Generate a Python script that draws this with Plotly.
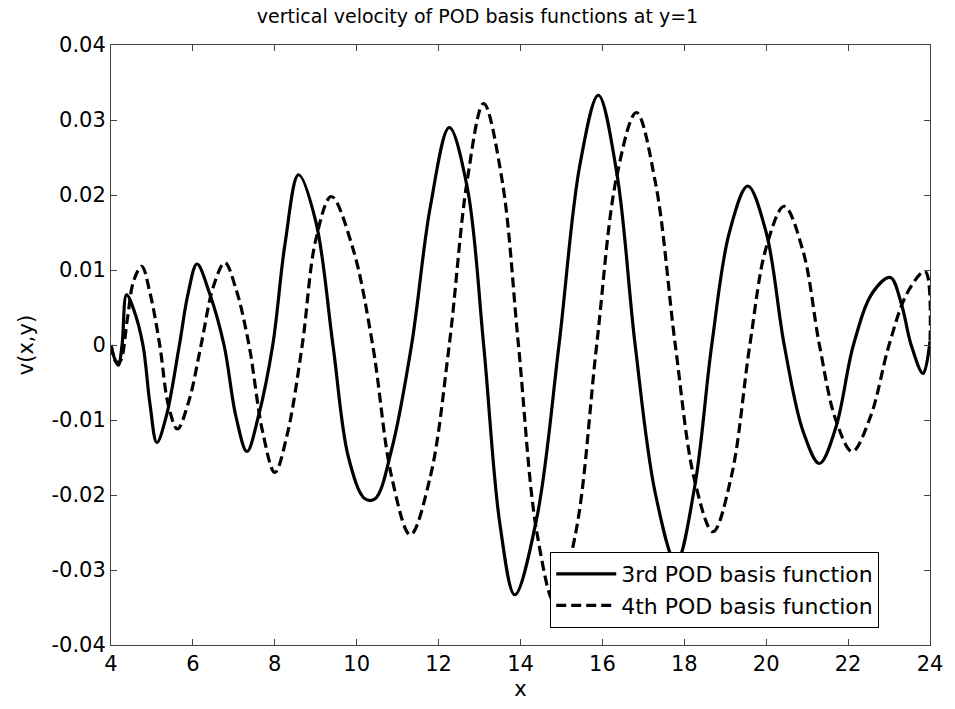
import plotly.graph_objects as go

# 3rd POD basis function: vertical velocity v(x, y=1)
x3 = [4.00, 4.10, 4.18, 4.27, 4.38, 4.55, 4.78, 4.95, 5.12, 5.35, 5.67, 5.88, 6.10,
      6.40, 6.76, 7.05, 7.32, 7.60, 7.95, 8.25, 8.58, 9.00, 9.42, 9.80, 10.20, 10.45,
      10.85, 11.34, 11.80, 12.26, 12.70, 13.10, 13.50, 13.86, 14.40, 14.94, 15.45,
      15.90, 16.35, 16.80, 17.30, 17.80, 18.25, 18.67, 19.10, 19.55, 20.00, 20.44,
      20.90, 21.30, 21.70, 22.13, 22.60, 23.03, 23.30, 23.54, 23.83, 24.00]
v3 = [0.0000, -0.0020, -0.0027, 0.0000, 0.0067, 0.0048, 0.0000, -0.0078, -0.0130,
      -0.0095, 0.0000, 0.0068, 0.0108, 0.0070, 0.0000, -0.0095, -0.0142, -0.0095,
      0.0000, 0.0135, 0.0227, 0.0165, 0.0000, -0.0150, -0.0205, -0.0205, -0.0140,
      0.0000, 0.0185, 0.0290, 0.0210, 0.0000, -0.0240, -0.0333, -0.0230, 0.0000,
      0.0240, 0.0333, 0.0230, 0.0000, -0.0200, -0.0290, -0.0190, 0.0000, 0.0150,
      0.0212, 0.0150, 0.0000, -0.0115, -0.0158, -0.0110, 0.0000, 0.0070, 0.0090,
      0.0055, 0.0000, -0.0038, 0.0005]

# 4th POD basis function: vertical velocity v(x, y=1)
x4 = [4.00, 4.12, 4.22, 4.40, 4.55, 4.75, 4.95, 5.19, 5.40, 5.62, 5.90, 6.20, 6.50,
      6.78, 7.05, 7.37, 7.70, 8.00, 8.30, 8.67, 9.00, 9.38, 9.90, 10.39, 10.85, 11.31,
      11.80, 12.26, 12.70, 13.10, 13.55, 13.95, 14.40, 14.85, 15.35, 15.86, 16.35,
      16.83, 17.30, 17.78, 18.25, 18.70, 19.15, 19.60, 20.00, 20.44, 20.90, 21.30,
      21.70, 22.10, 22.55, 23.00, 23.45, 23.88, 24.00]
v4 = [0.0000, -0.0022, -0.0022, 0.0035, 0.0085, 0.0105, 0.0070, 0.0000, -0.0080,
      -0.0112, -0.0075, 0.0000, 0.0078, 0.0110, 0.0075, 0.0000, -0.0115, -0.0170,
      -0.0120, 0.0000, 0.0140, 0.0198, 0.0130, 0.0000, -0.0175, -0.0253, -0.0175,
      0.0000, 0.0220, 0.0322, 0.0220, 0.0000, -0.0250, -0.0345, -0.0250, 0.0000,
      0.0225, 0.0310, 0.0215, 0.0000, -0.0180, -0.0249, -0.0175, 0.0000, 0.0130,
      0.0185, 0.0125, 0.0000, -0.0100, -0.0142, -0.0095, 0.0000, 0.0070, 0.0098,
      0.0000]

x_ticks = [4, 6, 8, 10, 12, 14, 16, 18, 20, 22, 24]
y_ticks = [0.04, 0.03, 0.02, 0.01, 0.0, -0.01, -0.02, -0.03, -0.04]
y_tick_text = ["0.04", "0.03", "0.02", "0.01", "0", "-0.01", "-0.02", "-0.03", "-0.04"]

FONT = "DejaVu Sans, Liberation Sans, Arial, sans-serif"

fig = go.Figure()
fig.add_trace(go.Scatter(
    x=x3, y=v3, mode="lines", name="3rd POD basis function",
    line=dict(color="black", width=3.2, shape="spline", smoothing=1.0),
))
fig.add_trace(go.Scatter(
    x=x4, y=v4, mode="lines", name="4th POD basis function",
    line=dict(color="black", width=3.2, dash="10px,5px", shape="spline", smoothing=1.0),
))

axis_common = dict(
    showgrid=False, zeroline=False, showline=True, linecolor="#444",
    linewidth=1, mirror="ticks", ticks="inside", ticklen=6, tickcolor="#444",
    tickfont=dict(family=FONT, size=21, color="black"),
)

fig.update_layout(
    width=955, height=709,
    margin=dict(l=111, r=18, t=45, b=63),
    paper_bgcolor="white", plot_bgcolor="white",
    title=dict(text="vertical velocity of POD basis functions at y=1",
               x=0.5, xref="container", xanchor="center", y=0.977, yanchor="middle",
               font=dict(family=FONT, size=19, color="black")),
    xaxis=dict(range=[4, 24], tickvals=x_ticks, title=dict(text="x", standoff=6,
               font=dict(family=FONT, size=21, color="black")), **axis_common),
    yaxis=dict(range=[-0.04, 0.04], tickvals=y_ticks, ticktext=y_tick_text,
               title=dict(text="v(x,y)", standoff=12,
                          font=dict(family=FONT, size=21, color="black")),
               **axis_common),
    legend=dict(x=0.5363, y=0.155, xanchor="left", yanchor="top",
                bgcolor="white", bordercolor="black", borderwidth=1,
                font=dict(family=FONT, size=22, color="black"),
                tracegroupgap=0, itemwidth=60),
    showlegend=True,
)

fig.write_html("out.html")
